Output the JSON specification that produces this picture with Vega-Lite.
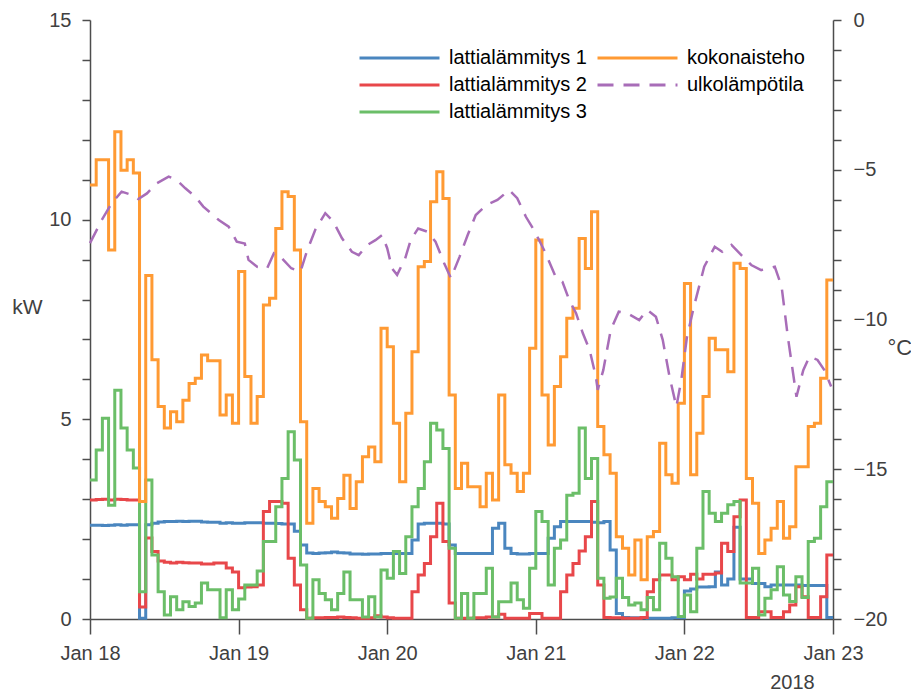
{
  "$schema": "https://vega.github.io/schema/vega-lite/v6.json",
  "width": 743,
  "height": 599,
  "autosize": {"type": "none"},
  "padding": {"left": 90, "top": 20, "right": 78, "bottom": 73},
  "background": "white",
  "config": {
    "view": {"stroke": null},
    "font": "Liberation Sans",
    "axis": {
      "domainColor": "#4d4d4d", "domainWidth": 1.5, "tickColor": "#4d4d4d", "tickWidth": 1.5,
      "labelColor": "#404040", "labelFontSize": 20, "labelFont": "Liberation Sans",
      "titleColor": "#404040", "titleFontWeight": "normal", "titleFont": "Liberation Sans",
      "grid": false, "labelOverlap": false, "labelFlush": false
    },
    "legend": {
      "orient": "none", "legendX": 268, "legendY": 25, "columns": 2, "columnPadding": 9,
      "rowPadding": 1, "clipHeight": 26, "symbolType": "stroke", "symbolSize": 6400,
      "symbolStrokeWidth": 3, "labelFontSize": 20, "labelFont": "Liberation Sans", "labelColor": "#000000",
      "labelOffset": 8, "labelLimit": 400, "padding": 0
    }
  },
  "layer": [
    {
      "data": {"values": [
        {"t":"2018-01-18T00:00","lattialämmitys 1":2.35,"lattialämmitys 2":2.98,"lattialämmitys 3":3.48,"kokonaisteho":10.87},
        {"t":"2018-01-18T01:00","lattialämmitys 1":2.35,"lattialämmitys 2":2.99,"lattialämmitys 3":4.23,"kokonaisteho":11.5},
        {"t":"2018-01-18T02:00","lattialämmitys 1":2.34,"lattialämmitys 2":3.0,"lattialämmitys 3":5.03,"kokonaisteho":11.5},
        {"t":"2018-01-18T03:00","lattialämmitys 1":2.35,"lattialämmitys 2":2.98,"lattialämmitys 3":2.85,"kokonaisteho":9.24},
        {"t":"2018-01-18T04:00","lattialämmitys 1":2.36,"lattialämmitys 2":3.0,"lattialämmitys 3":5.73,"kokonaisteho":12.2},
        {"t":"2018-01-18T05:00","lattialämmitys 1":2.35,"lattialämmitys 2":2.99,"lattialämmitys 3":4.78,"kokonaisteho":11.24},
        {"t":"2018-01-18T06:00","lattialämmitys 1":2.36,"lattialämmitys 2":2.98,"lattialämmitys 3":4.23,"kokonaisteho":11.5},
        {"t":"2018-01-18T07:00","lattialämmitys 1":2.36,"lattialämmitys 2":2.98,"lattialämmitys 3":3.78,"kokonaisteho":11.17},
        {"t":"2018-01-18T08:00","lattialämmitys 1":0.02,"lattialämmitys 2":0.3,"lattialämmitys 3":0.68,"kokonaisteho":2.94},
        {"t":"2018-01-18T09:00","lattialämmitys 1":2.36,"lattialämmitys 2":2.03,"lattialämmitys 3":3.48,"kokonaisteho":8.6},
        {"t":"2018-01-18T10:00","lattialämmitys 1":2.4,"lattialämmitys 2":1.69,"lattialämmitys 3":1.6,"kokonaisteho":6.49},
        {"t":"2018-01-18T11:00","lattialämmitys 1":2.43,"lattialämmitys 2":1.45,"lattialämmitys 3":0.68,"kokonaisteho":5.32},
        {"t":"2018-01-18T12:00","lattialämmitys 1":2.44,"lattialämmitys 2":1.42,"lattialämmitys 3":0.1,"kokonaisteho":4.78},
        {"t":"2018-01-18T13:00","lattialämmitys 1":2.44,"lattialämmitys 2":1.4,"lattialämmitys 3":0.56,"kokonaisteho":5.19},
        {"t":"2018-01-18T14:00","lattialämmitys 1":2.45,"lattialämmitys 2":1.42,"lattialämmitys 3":0.23,"kokonaisteho":4.94},
        {"t":"2018-01-18T15:00","lattialämmitys 1":2.44,"lattialämmitys 2":1.41,"lattialämmitys 3":0.43,"kokonaisteho":5.48},
        {"t":"2018-01-18T16:00","lattialämmitys 1":2.45,"lattialämmitys 2":1.4,"lattialämmitys 3":0.31,"kokonaisteho":5.9},
        {"t":"2018-01-18T17:00","lattialämmitys 1":2.45,"lattialämmitys 2":1.4,"lattialämmitys 3":0.4,"kokonaisteho":6.03},
        {"t":"2018-01-18T18:00","lattialämmitys 1":2.43,"lattialämmitys 2":1.38,"lattialämmitys 3":0.9,"kokonaisteho":6.61},
        {"t":"2018-01-18T19:00","lattialämmitys 1":2.42,"lattialämmitys 2":1.38,"lattialämmitys 3":0.73,"kokonaisteho":6.47},
        {"t":"2018-01-18T20:00","lattialämmitys 1":2.42,"lattialämmitys 2":1.4,"lattialämmitys 3":0.73,"kokonaisteho":6.47},
        {"t":"2018-01-18T21:00","lattialämmitys 1":2.4,"lattialämmitys 2":1.4,"lattialämmitys 3":0.03,"kokonaisteho":5.11},
        {"t":"2018-01-18T22:00","lattialämmitys 1":2.41,"lattialämmitys 2":1.28,"lattialämmitys 3":0.73,"kokonaisteho":5.61},
        {"t":"2018-01-18T23:00","lattialämmitys 1":2.4,"lattialämmitys 2":1.18,"lattialämmitys 3":0.23,"kokonaisteho":4.9},
        {"t":"2018-01-19T00:00","lattialämmitys 1":2.4,"lattialämmitys 2":0.78,"lattialämmitys 3":0.5,"kokonaisteho":8.7},
        {"t":"2018-01-19T01:00","lattialämmitys 1":2.41,"lattialämmitys 2":0.8,"lattialämmitys 3":0.85,"kokonaisteho":6.07},
        {"t":"2018-01-19T02:00","lattialämmitys 1":2.41,"lattialämmitys 2":0.81,"lattialämmitys 3":0.85,"kokonaisteho":4.9},
        {"t":"2018-01-19T03:00","lattialämmitys 1":2.41,"lattialämmitys 2":0.85,"lattialämmitys 3":1.2,"kokonaisteho":5.57},
        {"t":"2018-01-19T04:00","lattialämmitys 1":2.4,"lattialämmitys 2":2.69,"lattialämmitys 3":1.94,"kokonaisteho":7.86},
        {"t":"2018-01-19T05:00","lattialämmitys 1":2.4,"lattialämmitys 2":2.94,"lattialämmitys 3":1.94,"kokonaisteho":8.03},
        {"t":"2018-01-19T06:00","lattialämmitys 1":2.39,"lattialämmitys 2":2.94,"lattialämmitys 3":2.81,"kokonaisteho":9.78},
        {"t":"2018-01-19T07:00","lattialämmitys 1":2.38,"lattialämmitys 2":2.9,"lattialämmitys 3":3.52,"kokonaisteho":10.7},
        {"t":"2018-01-19T08:00","lattialämmitys 1":2.38,"lattialämmitys 2":1.52,"lattialämmitys 3":4.69,"kokonaisteho":10.58},
        {"t":"2018-01-19T09:00","lattialämmitys 1":2.2,"lattialämmitys 2":0.85,"lattialämmitys 3":3.98,"kokonaisteho":9.24},
        {"t":"2018-01-19T10:00","lattialämmitys 1":1.85,"lattialämmitys 2":0.23,"lattialämmitys 3":1.35,"kokonaisteho":4.94},
        {"t":"2018-01-19T11:00","lattialämmitys 1":1.65,"lattialämmitys 2":0.02,"lattialämmitys 3":0.02,"kokonaisteho":2.4},
        {"t":"2018-01-19T12:00","lattialämmitys 1":1.64,"lattialämmitys 2":0.03,"lattialämmitys 3":0.98,"kokonaisteho":3.27},
        {"t":"2018-01-19T13:00","lattialämmitys 1":1.65,"lattialämmitys 2":0.03,"lattialämmitys 3":0.64,"kokonaisteho":2.94},
        {"t":"2018-01-19T14:00","lattialämmitys 1":1.66,"lattialämmitys 2":0.04,"lattialämmitys 3":0.48,"kokonaisteho":2.81},
        {"t":"2018-01-19T15:00","lattialämmitys 1":1.68,"lattialämmitys 2":0.04,"lattialämmitys 3":0.23,"kokonaisteho":2.52},
        {"t":"2018-01-19T16:00","lattialämmitys 1":1.66,"lattialämmitys 2":0.05,"lattialämmitys 3":0.64,"kokonaisteho":3.02},
        {"t":"2018-01-19T17:00","lattialämmitys 1":1.65,"lattialämmitys 2":0.04,"lattialämmitys 3":1.18,"kokonaisteho":3.6},
        {"t":"2018-01-19T18:00","lattialämmitys 1":1.63,"lattialämmitys 2":0.03,"lattialämmitys 3":0.48,"kokonaisteho":2.77},
        {"t":"2018-01-19T19:00","lattialämmitys 1":1.63,"lattialämmitys 2":0.02,"lattialämmitys 3":0.48,"kokonaisteho":3.44},
        {"t":"2018-01-19T20:00","lattialämmitys 1":1.62,"lattialämmitys 2":0.02,"lattialämmitys 3":0.05,"kokonaisteho":4.06},
        {"t":"2018-01-19T21:00","lattialämmitys 1":1.63,"lattialämmitys 2":0.03,"lattialämmitys 3":0.56,"kokonaisteho":4.31},
        {"t":"2018-01-19T22:00","lattialämmitys 1":1.63,"lattialämmitys 2":0.08,"lattialämmitys 3":0.05,"kokonaisteho":3.94},
        {"t":"2018-01-19T23:00","lattialämmitys 1":1.64,"lattialämmitys 2":0.05,"lattialämmitys 3":1.23,"kokonaisteho":7.28},
        {"t":"2018-01-20T00:00","lattialämmitys 1":1.64,"lattialämmitys 2":0.03,"lattialämmitys 3":1.02,"kokonaisteho":6.82},
        {"t":"2018-01-20T01:00","lattialämmitys 1":1.64,"lattialämmitys 2":0.02,"lattialämmitys 3":1.69,"kokonaisteho":4.9},
        {"t":"2018-01-20T02:00","lattialämmitys 1":1.64,"lattialämmitys 2":0.02,"lattialämmitys 3":1.14,"kokonaisteho":3.44},
        {"t":"2018-01-20T03:00","lattialämmitys 1":1.64,"lattialämmitys 2":0.02,"lattialämmitys 3":2.06,"kokonaisteho":5.15},
        {"t":"2018-01-20T04:00","lattialämmitys 1":1.98,"lattialämmitys 2":0.68,"lattialämmitys 3":2.81,"kokonaisteho":6.69},
        {"t":"2018-01-20T05:00","lattialämmitys 1":2.38,"lattialämmitys 2":1.1,"lattialämmitys 3":3.27,"kokonaisteho":8.82},
        {"t":"2018-01-20T06:00","lattialämmitys 1":2.4,"lattialämmitys 2":1.39,"lattialämmitys 3":3.94,"kokonaisteho":8.95},
        {"t":"2018-01-20T07:00","lattialämmitys 1":2.4,"lattialämmitys 2":2.06,"lattialämmitys 3":4.9,"kokonaisteho":10.45},
        {"t":"2018-01-20T08:00","lattialämmitys 1":2.4,"lattialämmitys 2":2.9,"lattialämmitys 3":4.73,"kokonaisteho":11.2},
        {"t":"2018-01-20T09:00","lattialämmitys 1":2.38,"lattialämmitys 2":1.94,"lattialämmitys 3":4.27,"kokonaisteho":10.53},
        {"t":"2018-01-20T10:00","lattialämmitys 1":1.85,"lattialämmitys 2":0.4,"lattialämmitys 3":1.77,"kokonaisteho":5.61},
        {"t":"2018-01-20T11:00","lattialämmitys 1":1.64,"lattialämmitys 2":0.02,"lattialämmitys 3":0.02,"kokonaisteho":3.27},
        {"t":"2018-01-20T12:00","lattialämmitys 1":1.64,"lattialämmitys 2":0.02,"lattialämmitys 3":0.64,"kokonaisteho":3.9},
        {"t":"2018-01-20T13:00","lattialämmitys 1":1.64,"lattialämmitys 2":0.02,"lattialämmitys 3":0.02,"kokonaisteho":3.31},
        {"t":"2018-01-20T14:00","lattialämmitys 1":1.64,"lattialämmitys 2":0.03,"lattialämmitys 3":0.64,"kokonaisteho":3.31},
        {"t":"2018-01-20T15:00","lattialämmitys 1":1.64,"lattialämmitys 2":0.03,"lattialämmitys 3":0.64,"kokonaisteho":2.81},
        {"t":"2018-01-20T16:00","lattialämmitys 1":1.64,"lattialämmitys 2":0.05,"lattialämmitys 3":1.27,"kokonaisteho":3.65},
        {"t":"2018-01-20T17:00","lattialämmitys 1":2.27,"lattialämmitys 2":0.05,"lattialämmitys 3":0.05,"kokonaisteho":2.98},
        {"t":"2018-01-20T18:00","lattialämmitys 1":2.4,"lattialämmitys 2":0.12,"lattialämmitys 3":0.43,"kokonaisteho":5.61},
        {"t":"2018-01-20T19:00","lattialämmitys 1":1.77,"lattialämmitys 2":0.02,"lattialämmitys 3":0.43,"kokonaisteho":3.86},
        {"t":"2018-01-20T20:00","lattialämmitys 1":1.64,"lattialämmitys 2":0.02,"lattialämmitys 3":0.9,"kokonaisteho":3.65},
        {"t":"2018-01-20T21:00","lattialämmitys 1":1.63,"lattialämmitys 2":0.02,"lattialämmitys 3":0.48,"kokonaisteho":3.19},
        {"t":"2018-01-20T22:00","lattialämmitys 1":1.63,"lattialämmitys 2":0.02,"lattialämmitys 3":0.27,"kokonaisteho":3.65},
        {"t":"2018-01-20T23:00","lattialämmitys 1":1.64,"lattialämmitys 2":0.14,"lattialämmitys 3":1.27,"kokonaisteho":6.78},
        {"t":"2018-01-21T00:00","lattialämmitys 1":1.64,"lattialämmitys 2":0.14,"lattialämmitys 3":2.69,"kokonaisteho":9.49},
        {"t":"2018-01-21T01:00","lattialämmitys 1":1.64,"lattialämmitys 2":0.02,"lattialämmitys 3":2.44,"kokonaisteho":5.61},
        {"t":"2018-01-21T02:00","lattialämmitys 1":2.02,"lattialämmitys 2":0.02,"lattialämmitys 3":0.85,"kokonaisteho":4.36},
        {"t":"2018-01-21T03:00","lattialämmitys 1":2.31,"lattialämmitys 2":0.02,"lattialämmitys 3":1.77,"kokonaisteho":5.82},
        {"t":"2018-01-21T04:00","lattialämmitys 1":2.44,"lattialämmitys 2":0.68,"lattialämmitys 3":1.98,"kokonaisteho":6.57},
        {"t":"2018-01-21T05:00","lattialämmitys 1":2.44,"lattialämmitys 2":1.1,"lattialämmitys 3":3.1,"kokonaisteho":7.53},
        {"t":"2018-01-21T06:00","lattialämmitys 1":2.44,"lattialämmitys 2":1.39,"lattialämmitys 3":3.15,"kokonaisteho":7.78},
        {"t":"2018-01-21T07:00","lattialämmitys 1":2.44,"lattialämmitys 2":1.7,"lattialämmitys 3":4.78,"kokonaisteho":9.53},
        {"t":"2018-01-21T08:00","lattialämmitys 1":2.44,"lattialämmitys 2":2.06,"lattialämmitys 3":3.52,"kokonaisteho":8.78},
        {"t":"2018-01-21T09:00","lattialämmitys 1":2.42,"lattialämmitys 2":2.94,"lattialämmitys 3":4.02,"kokonaisteho":10.2},
        {"t":"2018-01-21T10:00","lattialämmitys 1":2.41,"lattialämmitys 2":0.85,"lattialämmitys 3":1.02,"kokonaisteho":4.82},
        {"t":"2018-01-21T11:00","lattialämmitys 1":2.44,"lattialämmitys 2":0.04,"lattialämmitys 3":0.52,"kokonaisteho":4.11},
        {"t":"2018-01-21T12:00","lattialämmitys 1":1.73,"lattialämmitys 2":0.03,"lattialämmitys 3":0.55,"kokonaisteho":3.65},
        {"t":"2018-01-21T13:00","lattialämmitys 1":0.14,"lattialämmitys 2":0.03,"lattialämmitys 3":1.02,"kokonaisteho":2.06},
        {"t":"2018-01-21T14:00","lattialämmitys 1":0.04,"lattialämmitys 2":0.02,"lattialämmitys 3":0.54,"kokonaisteho":1.77},
        {"t":"2018-01-21T15:00","lattialämmitys 1":0.03,"lattialämmitys 2":0.02,"lattialämmitys 3":0.35,"kokonaisteho":1.1},
        {"t":"2018-01-21T16:00","lattialämmitys 1":0.03,"lattialämmitys 2":0.02,"lattialämmitys 3":0.4,"kokonaisteho":1.98},
        {"t":"2018-01-21T17:00","lattialämmitys 1":0.03,"lattialämmitys 2":0.04,"lattialämmitys 3":0.23,"kokonaisteho":0.98},
        {"t":"2018-01-21T18:00","lattialämmitys 1":0.02,"lattialämmitys 2":0.68,"lattialämmitys 3":0.54,"kokonaisteho":2.06},
        {"t":"2018-01-21T19:00","lattialämmitys 1":0.02,"lattialämmitys 2":0.98,"lattialämmitys 3":0.23,"kokonaisteho":2.19},
        {"t":"2018-01-21T20:00","lattialämmitys 1":0.02,"lattialämmitys 2":1.1,"lattialämmitys 3":1.9,"kokonaisteho":4.4},
        {"t":"2018-01-21T21:00","lattialämmitys 1":0.02,"lattialämmitys 2":1.1,"lattialämmitys 3":1.52,"kokonaisteho":3.61},
        {"t":"2018-01-21T22:00","lattialämmitys 1":0.03,"lattialämmitys 2":0.98,"lattialämmitys 3":1.06,"kokonaisteho":3.4},
        {"t":"2018-01-21T23:00","lattialämmitys 1":0.03,"lattialämmitys 2":1.06,"lattialämmitys 3":0.06,"kokonaisteho":5.4},
        {"t":"2018-01-22T00:00","lattialämmitys 1":0.7,"lattialämmitys 2":0.98,"lattialämmitys 3":0.6,"kokonaisteho":8.4},
        {"t":"2018-01-22T01:00","lattialämmitys 1":0.75,"lattialämmitys 2":1.12,"lattialämmitys 3":0.18,"kokonaisteho":3.61},
        {"t":"2018-01-22T02:00","lattialämmitys 1":0.8,"lattialämmitys 2":1.0,"lattialämmitys 3":1.77,"kokonaisteho":4.65},
        {"t":"2018-01-22T03:00","lattialämmitys 1":0.8,"lattialämmitys 2":1.12,"lattialämmitys 3":3.19,"kokonaisteho":5.57},
        {"t":"2018-01-22T04:00","lattialämmitys 1":0.81,"lattialämmitys 2":1.12,"lattialämmitys 3":2.65,"kokonaisteho":7.03},
        {"t":"2018-01-22T05:00","lattialämmitys 1":1.18,"lattialämmitys 2":1.15,"lattialämmitys 3":2.44,"kokonaisteho":6.74},
        {"t":"2018-01-22T06:00","lattialämmitys 1":0.85,"lattialämmitys 2":1.9,"lattialämmitys 3":2.65,"kokonaisteho":6.74},
        {"t":"2018-01-22T07:00","lattialämmitys 1":1.0,"lattialämmitys 2":1.69,"lattialämmitys 3":2.86,"kokonaisteho":6.19},
        {"t":"2018-01-22T08:00","lattialämmitys 1":2.3,"lattialämmitys 2":2.56,"lattialämmitys 3":2.94,"kokonaisteho":8.91},
        {"t":"2018-01-22T09:00","lattialämmitys 1":1.0,"lattialämmitys 2":2.98,"lattialämmitys 3":0.9,"kokonaisteho":8.78},
        {"t":"2018-01-22T10:00","lattialämmitys 1":1.0,"lattialämmitys 2":0.04,"lattialämmitys 3":0.9,"kokonaisteho":3.52},
        {"t":"2018-01-22T11:00","lattialämmitys 1":0.89,"lattialämmitys 2":0.04,"lattialämmitys 3":1.27,"kokonaisteho":2.9},
        {"t":"2018-01-22T12:00","lattialämmitys 1":0.89,"lattialämmitys 2":0.18,"lattialämmitys 3":0.1,"kokonaisteho":1.64},
        {"t":"2018-01-22T13:00","lattialämmitys 1":0.81,"lattialämmitys 2":0.18,"lattialämmitys 3":0.52,"kokonaisteho":1.98},
        {"t":"2018-01-22T14:00","lattialämmitys 1":0.85,"lattialämmitys 2":0.04,"lattialämmitys 3":0.73,"kokonaisteho":2.27},
        {"t":"2018-01-22T15:00","lattialämmitys 1":0.85,"lattialämmitys 2":0.04,"lattialämmitys 3":1.31,"kokonaisteho":2.94},
        {"t":"2018-01-22T16:00","lattialämmitys 1":0.85,"lattialämmitys 2":0.18,"lattialämmitys 3":0.6,"kokonaisteho":2.02},
        {"t":"2018-01-22T17:00","lattialämmitys 1":0.85,"lattialämmitys 2":0.35,"lattialämmitys 3":0.44,"kokonaisteho":2.31},
        {"t":"2018-01-22T18:00","lattialämmitys 1":0.85,"lattialämmitys 2":0.81,"lattialämmitys 3":1.06,"kokonaisteho":3.81},
        {"t":"2018-01-22T19:00","lattialämmitys 1":0.84,"lattialämmitys 2":0.56,"lattialämmitys 3":0.54,"kokonaisteho":3.81},
        {"t":"2018-01-22T20:00","lattialämmitys 1":0.84,"lattialämmitys 2":0.04,"lattialämmitys 3":1.94,"kokonaisteho":4.82},
        {"t":"2018-01-22T21:00","lattialämmitys 1":0.84,"lattialämmitys 2":0.04,"lattialämmitys 3":2.02,"kokonaisteho":4.9},
        {"t":"2018-01-22T22:00","lattialämmitys 1":0.84,"lattialämmitys 2":0.56,"lattialämmitys 3":2.81,"kokonaisteho":6.03},
        {"t":"2018-01-22T23:00","lattialämmitys 1":0.04,"lattialämmitys 2":1.6,"lattialämmitys 3":3.44,"kokonaisteho":8.49},
        {"t":"2018-01-23T00:00","lattialämmitys 1":0.04,"lattialämmitys 2":1.6,"lattialämmitys 3":3.44,"kokonaisteho":8.49}
      ]},
      "transform": [{"fold": ["lattialämmitys 1", "lattialämmitys 2", "lattialämmitys 3", "kokonaisteho"], "as": ["series", "v"]}],
      "mark": {"type": "line", "interpolate": "step-after", "strokeWidth": 3},
      "encoding": {
        "x": {
          "field": "t", "type": "temporal",
          "scale": {"domain": [{"year": 2018, "month": 1, "date": 18}, {"year": 2018, "month": 1, "date": 23}]},
          "axis": {
            "values": [{"year": 2018, "month": 1, "date": 18}, {"year": 2018, "month": 1, "date": 19}, {"year": 2018, "month": 1, "date": 20}, {"year": 2018, "month": 1, "date": 21}, {"year": 2018, "month": 1, "date": 22}, {"year": 2018, "month": 1, "date": 23}],
            "format": "%b %d", "tickSize": 15, "labelPadding": 9,
            "title": "2018", "titleX": 702, "titleY": 69, "titleAlign": "center", "titleBaseline": "alphabetic", "titleFontSize": 20
          }
        },
        "y": {
          "field": "v", "type": "quantitative",
          "scale": {"domain": [0, 15], "nice": false},
          "axis": {
            "values": [0,1,2,3,4,5,6,7,8,9,10,11,12,13,14,15],
            "tickCount": 16,
            "labelExpr": "datum.value % 5 === 0 ? datum.label : ''",
            "tickSize": 8,
            "labelPadding": 11,
            "title": "kW", "titleAngle": 0, "titleX": -63, "titleY": 293, "titleAlign": "center", "titleBaseline": "alphabetic", "titleFontSize": 21
          }
        },
        "color": {
          "field": "series", "type": "nominal",
          "scale": {"domain": ["lattialämmitys 1", "lattialämmitys 2", "lattialämmitys 3", "kokonaisteho", "ulkolämpötila"], "range": ["#4A86BF", "#E8474A", "#6BBE68", "#FF9A33", "#A86DB8"]},
          "legend": {"title": null}
        },
        "strokeDash": {
          "field": "series", "type": "nominal",
          "scale": {"domain": ["lattialämmitys 1", "lattialämmitys 2", "lattialämmitys 3", "kokonaisteho", "ulkolämpötila"], "range": [[1, 0], [1, 0], [1, 0], [1, 0], [16, 10]]},
          "legend": {"title": null}
        }
      }
    },
    {
      "data": {"values": [
        {"t":"2018-01-18T00:00","series":"ulkolämpötila","v":-7.45},
        {"t":"2018-01-18T01:54","series":"ulkolämpötila","v":-6.68},
        {"t":"2018-01-18T03:30","series":"ulkolämpötila","v":-6.12},
        {"t":"2018-01-18T05:06","series":"ulkolämpötila","v":-5.73},
        {"t":"2018-01-18T06:42","series":"ulkolämpötila","v":-5.84},
        {"t":"2018-01-18T07:48","series":"ulkolämpötila","v":-5.98},
        {"t":"2018-01-18T09:12","series":"ulkolämpötila","v":-5.79},
        {"t":"2018-01-18T10:48","series":"ulkolämpötila","v":-5.45},
        {"t":"2018-01-18T12:42","series":"ulkolämpötila","v":-5.23},
        {"t":"2018-01-18T14:00","series":"ulkolämpötila","v":-5.34},
        {"t":"2018-01-18T15:24","series":"ulkolämpötila","v":-5.62},
        {"t":"2018-01-18T17:00","series":"ulkolämpötila","v":-5.9},
        {"t":"2018-01-18T18:18","series":"ulkolämpötila","v":-6.23},
        {"t":"2018-01-18T20:48","series":"ulkolämpötila","v":-6.68},
        {"t":"2018-01-18T22:24","series":"ulkolämpötila","v":-6.9},
        {"t":"2018-01-18T23:42","series":"ulkolämpötila","v":-7.4},
        {"t":"2018-01-19T01:00","series":"ulkolämpötila","v":-7.46},
        {"t":"2018-01-19T01:36","series":"ulkolämpötila","v":-8.01},
        {"t":"2018-01-19T03:00","series":"ulkolämpötila","v":-8.24},
        {"t":"2018-01-19T04:36","series":"ulkolämpötila","v":-8.29},
        {"t":"2018-01-19T05:42","series":"ulkolämpötila","v":-7.79},
        {"t":"2018-01-19T07:00","series":"ulkolämpötila","v":-7.96},
        {"t":"2018-01-19T08:30","series":"ulkolämpötila","v":-8.29},
        {"t":"2018-01-19T10:00","series":"ulkolämpötila","v":-8.4},
        {"t":"2018-01-19T11:00","series":"ulkolämpötila","v":-7.74},
        {"t":"2018-01-19T12:24","series":"ulkolämpötila","v":-7.0},
        {"t":"2018-01-19T14:00","series":"ulkolämpötila","v":-6.45},
        {"t":"2018-01-19T15:18","series":"ulkolämpötila","v":-6.73},
        {"t":"2018-01-19T16:42","series":"ulkolämpötila","v":-7.29},
        {"t":"2018-01-19T18:18","series":"ulkolämpötila","v":-7.74},
        {"t":"2018-01-19T19:24","series":"ulkolämpötila","v":-7.85},
        {"t":"2018-01-19T20:48","series":"ulkolämpötila","v":-7.51},
        {"t":"2018-01-19T22:06","series":"ulkolämpötila","v":-7.35},
        {"t":"2018-01-19T23:12","series":"ulkolämpötila","v":-7.18},
        {"t":"2018-01-20T00:00","series":"ulkolämpötila","v":-7.62},
        {"t":"2018-01-20T00:48","series":"ulkolämpötila","v":-8.3},
        {"t":"2018-01-20T01:36","series":"ulkolämpötila","v":-8.51},
        {"t":"2018-01-20T02:54","series":"ulkolämpötila","v":-7.96},
        {"t":"2018-01-20T03:48","series":"ulkolämpötila","v":-7.35},
        {"t":"2018-01-20T05:00","series":"ulkolämpötila","v":-6.96},
        {"t":"2018-01-20T06:30","series":"ulkolämpötila","v":-7.07},
        {"t":"2018-01-20T07:48","series":"ulkolämpötila","v":-7.4},
        {"t":"2018-01-20T09:12","series":"ulkolämpötila","v":-8.12},
        {"t":"2018-01-20T10:18","series":"ulkolämpötila","v":-8.62},
        {"t":"2018-01-20T11:42","series":"ulkolämpötila","v":-7.9},
        {"t":"2018-01-20T13:00","series":"ulkolämpötila","v":-7.18},
        {"t":"2018-01-20T14:18","series":"ulkolämpötila","v":-6.51},
        {"t":"2018-01-20T16:00","series":"ulkolämpötila","v":-6.18},
        {"t":"2018-01-20T17:48","series":"ulkolämpötila","v":-6.01},
        {"t":"2018-01-20T19:42","series":"ulkolämpötila","v":-5.68},
        {"t":"2018-01-20T21:00","series":"ulkolämpötila","v":-5.95},
        {"t":"2018-01-20T22:24","series":"ulkolämpötila","v":-6.57},
        {"t":"2018-01-20T23:48","series":"ulkolämpötila","v":-7.05},
        {"t":"2018-01-21T01:30","series":"ulkolämpötila","v":-7.75},
        {"t":"2018-01-21T03:12","series":"ulkolämpötila","v":-8.57},
        {"t":"2018-01-21T04:18","series":"ulkolämpötila","v":-8.74},
        {"t":"2018-01-21T05:24","series":"ulkolämpötila","v":-9.35},
        {"t":"2018-01-21T06:30","series":"ulkolämpötila","v":-9.79},
        {"t":"2018-01-21T07:36","series":"ulkolämpötila","v":-10.46},
        {"t":"2018-01-21T08:42","series":"ulkolämpötila","v":-11.02},
        {"t":"2018-01-21T09:42","series":"ulkolämpötila","v":-11.91},
        {"t":"2018-01-21T10:00","series":"ulkolämpötila","v":-12.35},
        {"t":"2018-01-21T10:54","series":"ulkolämpötila","v":-11.69},
        {"t":"2018-01-21T12:06","series":"ulkolämpötila","v":-10.35},
        {"t":"2018-01-21T13:24","series":"ulkolämpötila","v":-9.74},
        {"t":"2018-01-21T14:48","series":"ulkolämpötila","v":-9.79},
        {"t":"2018-01-21T16:42","series":"ulkolämpötila","v":-10.02},
        {"t":"2018-01-21T18:00","series":"ulkolämpötila","v":-9.68},
        {"t":"2018-01-21T19:24","series":"ulkolämpötila","v":-9.91},
        {"t":"2018-01-21T20:30","series":"ulkolämpötila","v":-10.68},
        {"t":"2018-01-21T21:36","series":"ulkolämpötila","v":-11.91},
        {"t":"2018-01-21T22:42","series":"ulkolämpötila","v":-12.91},
        {"t":"2018-01-21T23:30","series":"ulkolämpötila","v":-12.02},
        {"t":"2018-01-22T00:24","series":"ulkolämpötila","v":-10.6},
        {"t":"2018-01-22T01:30","series":"ulkolämpötila","v":-9.6},
        {"t":"2018-01-22T03:12","series":"ulkolämpötila","v":-8.24},
        {"t":"2018-01-22T04:54","series":"ulkolämpötila","v":-7.57},
        {"t":"2018-01-22T06:06","series":"ulkolämpötila","v":-7.74},
        {"t":"2018-01-22T07:36","series":"ulkolämpötila","v":-7.51},
        {"t":"2018-01-22T09:12","series":"ulkolämpötila","v":-7.85},
        {"t":"2018-01-22T10:48","series":"ulkolämpötila","v":-8.18},
        {"t":"2018-01-22T12:24","series":"ulkolämpötila","v":-8.35},
        {"t":"2018-01-22T14:36","series":"ulkolämpötila","v":-8.24},
        {"t":"2018-01-22T15:42","series":"ulkolämpötila","v":-8.9},
        {"t":"2018-01-22T16:42","series":"ulkolämpötila","v":-10.57},
        {"t":"2018-01-22T18:06","series":"ulkolämpötila","v":-12.58},
        {"t":"2018-01-22T19:12","series":"ulkolämpötila","v":-11.69},
        {"t":"2018-01-22T20:12","series":"ulkolämpötila","v":-11.24},
        {"t":"2018-01-22T21:30","series":"ulkolämpötila","v":-11.35},
        {"t":"2018-01-22T22:36","series":"ulkolämpötila","v":-11.69},
        {"t":"2018-01-22T23:42","series":"ulkolämpötila","v":-12.24}
      ]},
      "mark": {"type": "line", "strokeWidth": 2.5},
      "encoding": {
        "x": {"field": "t", "type": "temporal"},
        "y": {
          "field": "v", "type": "quantitative",
          "scale": {"domain": [-20, 0], "nice": false, "zero": false},
          "axis": {
            "orient": "right",
            "values": [-20,-19,-18,-17,-16,-15,-14,-13,-12,-11,-10,-9,-8,-7,-6,-5,-4,-3,-2,-1,0],
            "tickCount": 21,
            "labelExpr": "datum.value % 5 === 0 ? datum.label : ''",
            "tickSize": 8,
            "labelPadding": 12,
            "title": "°C", "titleAngle": 0, "titleX": 54, "titleY": 334, "titleAlign": "left", "titleBaseline": "alphabetic", "titleFontSize": 22
          }
        },
        "color": {"field": "series", "type": "nominal", "legend": {"title": null}},
        "strokeDash": {"field": "series", "type": "nominal", "legend": {"title": null}}
      }
    }
  ],
  "resolve": {"scale": {"y": "independent"}}
}
